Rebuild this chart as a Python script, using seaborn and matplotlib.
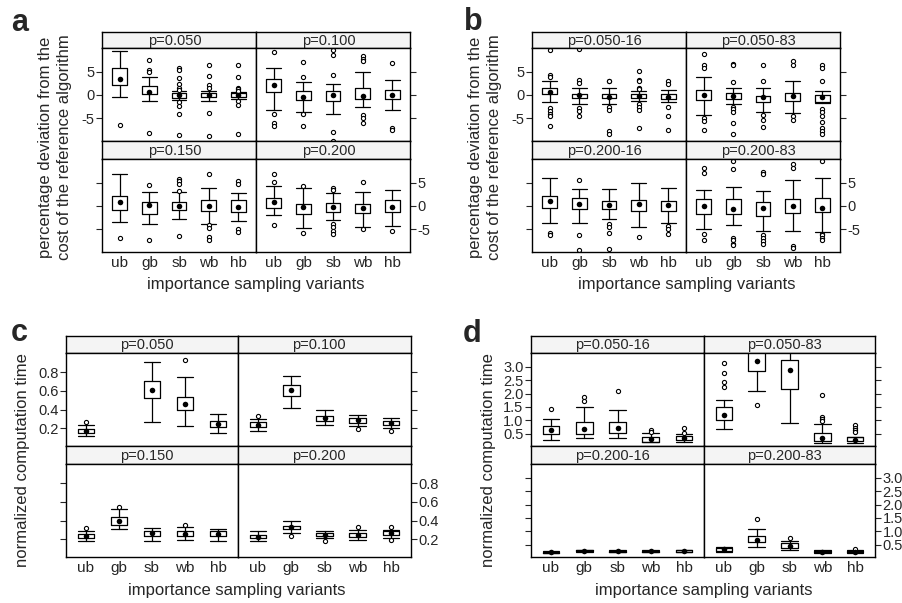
import matplotlib
matplotlib.use("Agg")
import matplotlib.pyplot as plt
import seaborn as sns

sns.set_style("white")
plt.rcParams['font.family'] = ['Liberation Sans', 'DejaVu Sans']

W, H = 902, 603

variants = ["ub", "gb", "sb", "wb", "hb"]

# --- panel a: deviation, by p -------------------------------------------
# each box: (whisker low, q1, median, q3, whisker high)
a_strips = ["p=0.050", "p=0.100", "p=0.150", "p=0.200"]
a_boxes = [
    [(-0.4, 2.1, 3.5, 5.9, 9.4), (-1.4, 0.1, 0.6, 1.9, 3.8), (-1.0, -0.6, -0.1, 0.4, 0.8),
     (-1.4, -0.5, -0.1, 0.4, 0.9), (-0.8, -0.4, 0.0, 0.4, 0.6)],
    [(-3.2, 0.6, 2.1, 3.5, 5.9), (-3.7, -1.1, -0.4, 0.8, 2.7), (-4.1, -1.4, -0.1, 0.8, 2.4),
     (-2.6, -0.9, -0.2, 1.4, 5.0), (-3.3, -0.8, 0.0, 1.1, 3.3)],
    [(-3.5, -0.8, 0.8, 2.2, 6.9), (-3.8, -1.7, 0.1, 0.8, 3.1), (-2.9, -0.8, -0.1, 0.9, 3.0),
     (-3.8, -1.0, -0.1, 1.2, 3.9), (-3.2, -1.2, -0.2, 1.2, 2.8)],
    [(-2.0, -0.4, 0.9, 1.7, 4.2), (-4.8, -1.7, -0.3, 0.5, 3.9), (-3.1, -1.2, -0.2, 0.6, 2.8),
     (-4.5, -1.5, -0.4, 0.5, 2.9), (-4.4, -1.2, -0.2, 1.2, 3.5)],
]
a_fliers = [
    [[-6.4], [7.5, 5.4, 4.9, -8.2], [5.9, 5.3, 3.6, 2.4, 1.6, 1.1, -1.6, -2.4, -4.1, -8.6],
     [6.4, 4.1, 2.1, 1.6, -3.8, -8.9], [6.4, 3.8, 1.6, 1.2, 0.9, -1.3, -2.1, -8.5]],
    [[9.3, -4.1, -6.1, -6.6], [7.1, 3.8, -4.1, -6.6], [9.6, 8.5, 4.2, -7.9, -9.8],
     [8.4, 7.8, 7.2, -4.4, -5.0, -6.0], [6.9, -7.1, -7.6]],
    [[-6.8], [4.5, -7.4], [5.8, 5.3, 4.8, 3.3, -6.4], [6.8, -4.0, -4.7, -6.7, -7.3],
     [5.3, 4.7, -5.0, -5.5]],
    [[6.8, 5.2, -4.0], [4.3, -5.9], [3.9, 3.4, -3.8, -4.5, -5.3, -6.0], [5.2, -4.9], [-5.3]],
]

# --- panel b: deviation, by p and size ----------------------------------
b_strips = ["p=0.050-16", "p=0.050-83", "p=0.200-16", "p=0.200-83"]
b_boxes = [
    [(-1.6, 0.1, 0.6, 1.4, 3.1), (-1.9, -0.7, -0.1, 0.3, 1.4), (-1.9, -0.7, -0.4, 0.3, 1.6),
     (-1.3, -0.6, -0.2, 0.3, 0.9), (-1.6, -0.8, -0.4, 0.1, 1.0)],
    [(-4.3, -1.1, -0.1, 1.1, 3.9), (-1.9, -0.8, -0.3, 0.4, 1.6), (-3.6, -1.6, -0.4, -0.2, 1.6),
     (-3.9, -1.3, -0.2, 0.5, 3.0), (-1.8, -1.5, -0.4, -0.1, 0.9)],
    [(-3.7, -0.4, 1.0, 2.2, 6.1), (-3.7, -0.7, 0.4, 1.7, 3.6), (-2.9, -0.6, 0.1, 1.1, 3.7),
     (-4.5, -1.1, 0.5, 1.3, 5.0), (-3.7, -1.1, 0.2, 1.0, 3.9)],
    [(-5.0, -1.7, 0.0, 1.4, 3.5), (-4.2, -1.8, -0.6, 1.4, 4.0), (-5.3, -2.2, -0.4, 0.8, 3.2),
     (-5.3, -1.5, -0.1, 1.4, 5.5), (-5.6, -1.4, -0.4, 1.8, 6.1)],
]
b_fliers = [
    [[9.6, 4.4, 3.8, -2.9, -3.5, -4.2, -4.6, -6.6], [9.9, 3.2, 2.5, -2.9, -3.5, -4.6],
     [3.1, 3.0, -2.5, -3.2, -7.8, -8.4], [5.1, 3.2, 2.9, 1.6, 1.2, -1.9, -2.5, -3.2, -7.2],
     [3.1, 2.4, -2.5, -4.6, -7.5]],
    [[8.8, 6.4, 5.9, -4.9, -5.5, -7.5], [6.6, 6.4, 2.8, -2.5, -3.1, -3.6, -6.1, -8.5],
     [6.4, 3.1, -4.3, -5.4, -6.8], [7.4, 6.4, -4.6, -5.4],
     [6.4, 5.8, 3.0, -3.0, -3.6, -4.6, -5.8, -7.1, -7.7, -8.4]],
    [[-5.8, -6.3], [5.5, -6.2, -9.4], [-3.9, -4.5, -5.9, -9.3], [-6.6], [-4.4, -5.0, -6.0]],
    [[8.1, 7.1, -6.0, -7.4], [9.7, 7.9, -6.8, -7.4, -8.1, -8.4], [7.4, 6.9, -6.2, -6.8, -7.6, -8.2],
     [9.1, 8.1, -8.6, -9.1], [9.6, -6.0, -6.3, -6.8, -7.4]],
]

# --- panel c: computation time, by p ------------------------------------
c_strips = ["p=0.050", "p=0.100", "p=0.150", "p=0.200"]
c_boxes = [
    [(0.12, 0.146, 0.17, 0.19, 0.236), None, (0.27, 0.52, 0.61, 0.71, 0.91),
     (0.22, 0.39, 0.46, 0.535, 0.75), (0.146, 0.21, 0.243, 0.275, 0.357)],
    [(0.175, 0.214, 0.24, 0.264, 0.296), (0.42, 0.543, 0.61, 0.66, 0.764),
     (0.23, 0.282, 0.314, 0.336, 0.396), (0.225, 0.26, 0.286, 0.31, 0.346),
     (0.2, 0.24, 0.26, 0.282, 0.314)],
    [(0.18, 0.21, 0.232, 0.254, 0.293), (0.308, 0.355, 0.398, 0.437, 0.524),
     (0.178, 0.24, 0.268, 0.293, 0.315), (0.193, 0.232, 0.258, 0.283, 0.33),
     (0.186, 0.23, 0.26, 0.283, 0.308)],
    [(0.178, 0.21, 0.229, 0.247, 0.29), (0.268, 0.308, 0.33, 0.347, 0.398),
     (0.21, 0.232, 0.25, 0.268, 0.293), (0.196, 0.222, 0.247, 0.268, 0.3),
     (0.21, 0.25, 0.268, 0.29, 0.304)],
]
c_fliers = [
    [[0.27], [], [], [0.925], []],
    [[0.33], [], [], [0.197], [0.175]],
    [[0.32], [0.54], [], [0.35], []],
    [[], [0.236], [0.186], [0.33], [0.33, 0.193]],
]

# --- panel d: computation time, by p and size ---------------------------
d_strips = ["p=0.050-16", "p=0.050-83", "p=0.200-16", "p=0.200-83"]
d_boxes = [
    [(0.26, 0.49, 0.64, 0.8, 1.05), (0.34, 0.5, 0.66, 0.93, 1.49), (0.33, 0.53, 0.72, 0.94, 1.4),
     (0.175, 0.19, 0.31, 0.375, 0.54), (0.19, 0.26, 0.35, 0.4, 0.5)],
    [(0.66, 1.01, 1.19, 1.49, 1.76), (2.11, 2.85, 3.22, 3.6, 3.9), (0.89, 2.16, 2.9, 3.27, 3.7),
     (0.14, 0.24, 0.33, 0.51, 0.86), (0.14, 0.21, 0.26, 0.36, 0.39)],
    [(0.19, 0.2, 0.22, 0.24, 0.25), (0.24, 0.27, 0.28, 0.31, 0.32), (0.22, 0.24, 0.26, 0.28, 0.3),
     (0.22, 0.24, 0.25, 0.27, 0.29), (0.22, 0.24, 0.26, 0.29, 0.31)],
    [(0.22, 0.26, 0.34, 0.36, 0.41), (0.41, 0.59, 0.69, 0.82, 1.09), (0.31, 0.39, 0.46, 0.55, 0.65),
     (0.2, 0.22, 0.24, 0.27, 0.29), (0.19, 0.21, 0.24, 0.27, 0.29)],
]
d_fliers = [
    [[1.41], [1.89, 1.72], [2.11], [0.64, 0.58], [0.71, 0.54]],
    [[3.14, 2.79, 2.45, 2.26], [1.56], [], [1.96, 1.13, 1.05, 0.98], [0.81, 0.72, 0.64, 0.56]],
    [[], [], [], [], []],
    [[], [1.45], [0.75], [], [0.34]],
]

dev_label = "percentage deviation from the\ncost of the reference algorithm"
time_label = "normalized computation time"
x_label = "importance sampling variants"


def px_axes(fig, x0, y0, x1, y1):
    return fig.add_axes([x0 / W, 1 - y1 / H, (x1 - x0) / W, (y1 - y0) / H])


def draw_panel(fig, geom, strips, boxes, fliers, ylim, yticks, yticklabels):
    xs = geom["x"]
    ys = geom["y"]
    for k in range(4):
        row, col = k // 2, k % 2
        x0, x1 = xs[col], xs[col + 1]
        s0, s1 = ys[2 * row], ys[2 * row + 1]
        p1 = ys[2 * row + 2]

        # strip
        sax = px_axes(fig, x0, s0, x1, s1)
        sax.set_facecolor("#f4f4f4")
        sax.set_xticks([])
        sax.set_yticks([])
        for sp in sax.spines.values():
            sp.set_color("black")
            sp.set_linewidth(1.0)
        sax.text(0.47, 0.45, strips[k], ha="center", va="center", fontsize=10.5,
                 transform=sax.transAxes)

        ax = px_axes(fig, x0, s1, x1, p1)
        stats, pos = [], []
        for i, b in enumerate(boxes[k]):
            if b is None:
                continue
            stats.append(dict(whislo=b[0], q1=b[1], med=b[2], q3=b[3], whishi=b[4],
                              fliers=fliers[k][i]))
            pos.append(i + 1)
        line = dict(color="black", linewidth=0.9)
        ax.bxp(stats, positions=pos, widths=0.5, capwidths=0.5,
               boxprops=line, whiskerprops=line, capprops=line,
               medianprops=dict(linewidth=0),
               flierprops=dict(marker="o", markersize=3, markerfacecolor="white",
                               markeredgecolor="black", markeredgewidth=0.8))
        sns.scatterplot(x=pos, y=[s["med"] for s in stats], ax=ax, color="black",
                        s=16, linewidth=0, zorder=5, legend=False)

        ax.set_xlim(0.4, 5.6)
        ax.set_ylim(*ylim)
        ax.set_xlabel("")
        ax.set_ylabel("")
        ax.set_xticks(range(1, 6))
        ax.set_xticklabels(variants, fontsize=11)
        ax.set_yticks(yticks)
        ax.set_yticklabels(yticklabels, fontsize=10.5)
        ax.tick_params(axis="x", length=0, pad=3, labelbottom=(row == 1))
        ax.tick_params(axis="y", direction="out", length=4, width=0.8, pad=1.5,
                       left=(col == 0), right=(col == 1),
                       labelleft=(row == 0 and col == 0),
                       labelright=(row == 1 and col == 1))
        for sp in ax.spines.values():
            sp.set_color("black")
            sp.set_linewidth(1.0)


fig = plt.figure(figsize=(W / 100, H / 100), dpi=100)

ab_y = [32, 48, 141, 159, 252]
cd_y = [336, 353, 446, 464, 557]

dev_ticks = [-5, 0, 5]
dev_tlabels = ["-5", "0", "5"]
c_ticks = [0.2, 0.4, 0.6, 0.8]
c_tlabels = ["0.2", "0.4", "0.6", "0.8"]
d_ticks = [0.5, 1.0, 1.5, 2.0, 2.5, 3.0]
d_tlabels = ["0.5", "1.0", "1.5", "2.0", "2.5", "3.0"]

draw_panel(fig, dict(x=[102, 256, 410], y=ab_y), a_strips, a_boxes, a_fliers,
           (-9.9, 10.1), dev_ticks, dev_tlabels)
draw_panel(fig, dict(x=[532, 686, 840], y=ab_y), b_strips, b_boxes, b_fliers,
           (-9.9, 10.1), dev_ticks, dev_tlabels)
draw_panel(fig, dict(x=[66, 238, 411], y=cd_y), c_strips, c_boxes, c_fliers,
           (0.01, 1.005), c_ticks, c_tlabels)
draw_panel(fig, dict(x=[531, 704, 875], y=cd_y), d_strips, d_boxes, d_fliers,
           (0.04, 3.52), d_ticks, d_tlabels)


# axis titles and panel letters, placed in figure pixels
def ftext(x, y, s, **kw):
    fig.text(x / W, 1 - y / H, s, **kw)


ftext(55, 147, dev_label, rotation=90, ha="center", va="center", fontsize=12,
      linespacing=1.35)
ftext(485, 147, dev_label, rotation=90, ha="center", va="center", fontsize=12,
      linespacing=1.35)
ftext(23, 460, time_label, rotation=90, ha="center", va="center", fontsize=12)
ftext(489, 460, time_label, rotation=90, ha="center", va="center", fontsize=12)

ftext(256, 285, x_label, ha="center", va="center", fontsize=12)
ftext(687, 285, x_label, ha="center", va="center", fontsize=12)
ftext(237, 590, x_label, ha="center", va="center", fontsize=12)
ftext(704, 590, x_label, ha="center", va="center", fontsize=12)

ftext(11, 31, "a", fontsize=22, fontweight="bold", ha="left", va="baseline")
ftext(464, 30, "b", fontsize=22, fontweight="bold", ha="left", va="baseline")
ftext(11, 341, "c", fontsize=22, fontweight="bold", ha="left", va="baseline")
ftext(463, 342, "d", fontsize=22, fontweight="bold", ha="left", va="baseline")

fig.savefig("out.png", dpi=100)
